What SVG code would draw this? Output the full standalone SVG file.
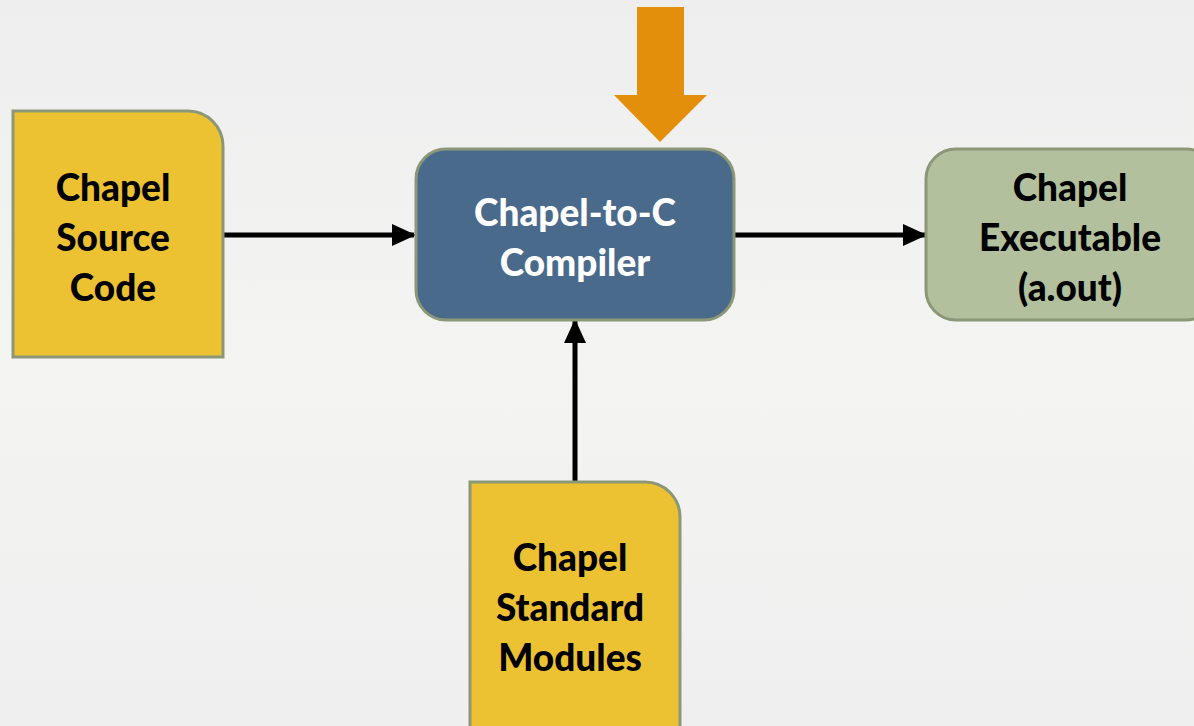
<svg xmlns="http://www.w3.org/2000/svg" width="1194" height="726" viewBox="0 0 1194 726">
<defs>
<linearGradient id="bg" x1="0" y1="0" x2="0" y2="1">
<stop offset="0" stop-color="#eeeeee"/>
<stop offset="0.5" stop-color="#f4f4f3"/>
<stop offset="1" stop-color="#efefef"/>
</linearGradient>
<marker id="ah" markerWidth="24" markerHeight="24" refX="22" refY="12" orient="auto" markerUnits="userSpaceOnUse">
<path d="M0,1 L24,12 L0,23 z" fill="#000"/>
</marker>
<style>
.yellow{fill:#ecc232;stroke:#8c9778;stroke-width:3}
.blue{fill:#4a6a8c;stroke:#8c9778;stroke-width:3}
.green{fill:#b2c09e;stroke:#8c9778;stroke-width:3}
.t{font-family:"Lato","Open Sans",sans-serif;font-weight:900;font-size:37px;text-anchor:middle}
.dark{fill:#000}
.white{fill:#fff}
.conn{stroke:#000;stroke-width:5;fill:none}
</style>
</defs>
<rect width="1194" height="726" fill="url(#bg)"/>
<g id="connectors">
<line class="conn" x1="223" y1="235" x2="414" y2="235" marker-end="url(#ah)"/>
<line class="conn" x1="734" y1="235" x2="925" y2="235" marker-end="url(#ah)"/>
<line class="conn" x1="575" y1="482" x2="575" y2="321" marker-end="url(#ah)"/>
<polygon id="orange-arrow" points="637,7 684,7 684,95 707,95 660,142 614,95 637,95" fill="#e38f0c"/>
</g>
<g id="source">
<path class="yellow" d="M13,111 H188 A35,35 0 0 1 223,146 V357 H13 Z"/>
<text class="t dark" x="113" y="201">Chapel</text>
<text class="t dark" x="113" y="251">Source</text>
<text class="t dark" x="113" y="301">Code</text>
</g>
<g id="compiler">
<rect class="blue" x="416" y="149" width="318" height="171" rx="30"/>
<text class="t white" x="575" y="226">Chapel-to-C</text>
<text class="t white" x="575" y="276">Compiler</text>
</g>
<g id="executable">
<rect class="green" x="926" y="149" width="290" height="171" rx="30"/>
<text class="t dark" x="1070" y="201">Chapel</text>
<text class="t dark" x="1070" y="251">Executable</text>
<text class="t dark" x="1070" y="301">(a.out)</text>
</g>
<g id="modules">
<path class="yellow" d="M470,482 H645 A35,35 0 0 1 680,517 V740 H470 Z"/>
<text class="t dark" x="570" y="571">Chapel</text>
<text class="t dark" x="570" y="621">Standard</text>
<text class="t dark" x="570" y="671">Modules</text>
</g>
</svg>
